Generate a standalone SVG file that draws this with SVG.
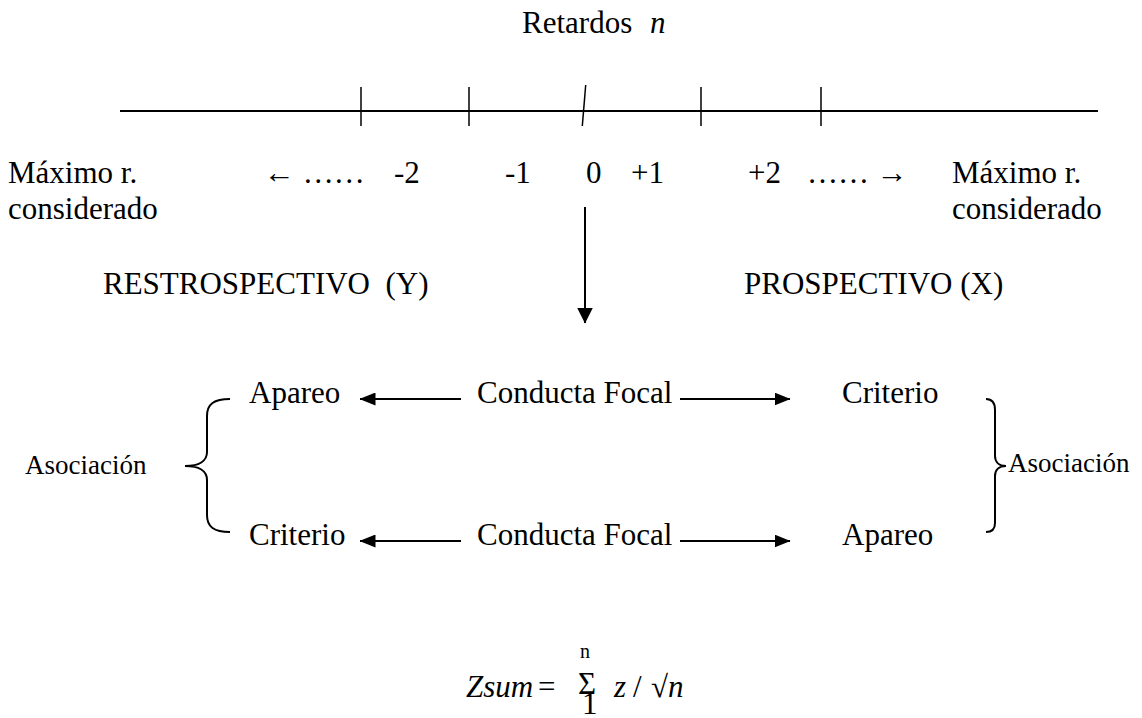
<svg xmlns="http://www.w3.org/2000/svg" width="1142" height="718" viewBox="0 0 1142 718">
<style>
.t{fill:#000;font-size:31px}
.sm{font-size:27px}
.xs{font-size:20px}
.it{font-style:italic}
.ln{stroke:#000;stroke-width:2;fill:none}
.tk{stroke:#000;stroke-width:1.5;fill:none}
</style>
<defs>
<marker id="ah" viewBox="0 0 16 13" refX="15.5" refY="6.5" markerWidth="16" markerHeight="13" markerUnits="userSpaceOnUse" orient="auto">
<path d="M0,0 L16,6.5 L0,13 Z" fill="#000"/>
</marker>
<marker id="av" viewBox="0 0 16 16" refX="15.5" refY="8" markerWidth="16" markerHeight="16" markerUnits="userSpaceOnUse" orient="auto">
<path d="M0,0 L16,8 L0,16 Z" fill="#000"/>
</marker>
</defs>
<g id="title"><text class="t" font-family="Liberation Serif, serif" x="522" y="33">Retardos</text><text class="t it" font-family="Liberation Serif, serif" x="650" y="33">n</text></g>
<g id="axis">
<line class="ln" x1="120" y1="111" x2="1098" y2="111"/>
<line class="tk" x1="361" y1="87" x2="361" y2="126"/>
<line class="tk" x1="469" y1="87" x2="469" y2="126"/>
<line class="tk" x1="585.7" y1="85" x2="582.3" y2="126"/>
<line class="tk" x1="701" y1="87" x2="701" y2="126"/>
<line class="tk" x1="821" y1="87" x2="821" y2="126"/>
</g>
<g id="labels">
<text class="t" font-family="Liberation Serif, serif" x="8" y="183">Máximo r.</text>
<text class="t" font-family="Liberation Serif, serif" x="8" y="219">considerado</text>
<text class="t" font-family="Liberation Serif, serif" x="264" y="183">← ……</text>
<text class="t" font-family="Liberation Serif, serif" x="394" y="183">-2</text>
<text class="t" font-family="Liberation Serif, serif" x="505" y="183">-1</text>
<text class="t" font-family="Liberation Serif, serif" x="586" y="183">0</text>
<text class="t" font-family="Liberation Serif, serif" x="631" y="183">+1</text>
<text class="t" font-family="Liberation Serif, serif" x="748" y="183">+2</text>
<text class="t" font-family="Liberation Serif, serif" x="807" y="183">…… →</text>
<text class="t" font-family="Liberation Serif, serif" x="952" y="183">Máximo r.</text>
<text class="t" font-family="Liberation Serif, serif" x="952" y="219">considerado</text>
</g>
<g id="restrospectivo"><text class="t" font-family="Liberation Serif, serif" x="103" y="294" xml:space="preserve">RESTROSPECTIVO  (Y)</text></g>
<g id="prospectivo"><text class="t" font-family="Liberation Serif, serif" x="744" y="294">PROSPECTIVO (X)</text></g>
<g id="apareo1"><text class="t" font-family="Liberation Serif, serif" x="249" y="403">Apareo</text></g>
<g id="focal1"><text class="t" font-family="Liberation Serif, serif" x="477" y="403">Conducta Focal</text></g>
<g id="criterio1"><text class="t" font-family="Liberation Serif, serif" x="842" y="403">Criterio</text></g>
<g id="criterio2"><text class="t" font-family="Liberation Serif, serif" x="249" y="545">Criterio</text></g>
<g id="focal2"><text class="t" font-family="Liberation Serif, serif" x="477" y="545">Conducta Focal</text></g>
<g id="apareo2"><text class="t" font-family="Liberation Serif, serif" x="842" y="545">Apareo</text></g>
<g id="asoc-left"><text class="t sm" font-family="Liberation Serif, serif" x="25" y="474">Asociación</text></g>
<g id="asoc-right"><text class="t sm" font-family="Liberation Serif, serif" x="1008" y="472">Asociación</text></g>
<g id="connectors">
<line class="ln" x1="585" y1="207" x2="585" y2="323" marker-end="url(#av)"/>
<line class="ln" x1="461" y1="399" x2="360" y2="399" marker-end="url(#ah)"/>
<line class="ln" x1="680" y1="399" x2="790" y2="399" marker-end="url(#ah)"/>
<line class="ln" x1="461" y1="541" x2="360" y2="541" marker-end="url(#ah)"/>
<line class="ln" x1="680" y1="541" x2="790" y2="541" marker-end="url(#ah)"/>
<path class="ln" d="M230,399 C214,399 207,404 207,416 L207,452 C207,461 199,466 185,466 C199,466 207,471 207,480 L207,515 C207,527 214,532 230,532"/>
<path class="ln" d="M986,399 C992,399 995,403 995,410 L995,456 C995,462 999,466 1006,466 C999,466 995,470 995,476 L995,523 C995,529 992,532 986,532"/>
</g>
<g id="formula">
<text class="t it" font-family="Liberation Serif, serif" x="466" y="697">Zsum</text>
<text class="t" font-family="Liberation Serif, serif" x="538" y="697">=</text>
<text class="t" font-family="Liberation Serif, serif" x="578" y="694" font-size="25">Σ</text>
<text class="t xs" font-family="Liberation Serif, serif" x="580" y="658">n</text>
<text class="t" font-family="Liberation Serif, serif" x="582" y="714" font-size="15">1</text>
<text class="t it" font-family="Liberation Serif, serif" x="614" y="697">z</text>
<text class="t" font-family="Liberation Serif, serif" x="633" y="697">/</text>
<text class="t" font-family="Liberation Serif, serif" x="651" y="697">√<tspan class="it">n</tspan></text>
</g>
</svg>
